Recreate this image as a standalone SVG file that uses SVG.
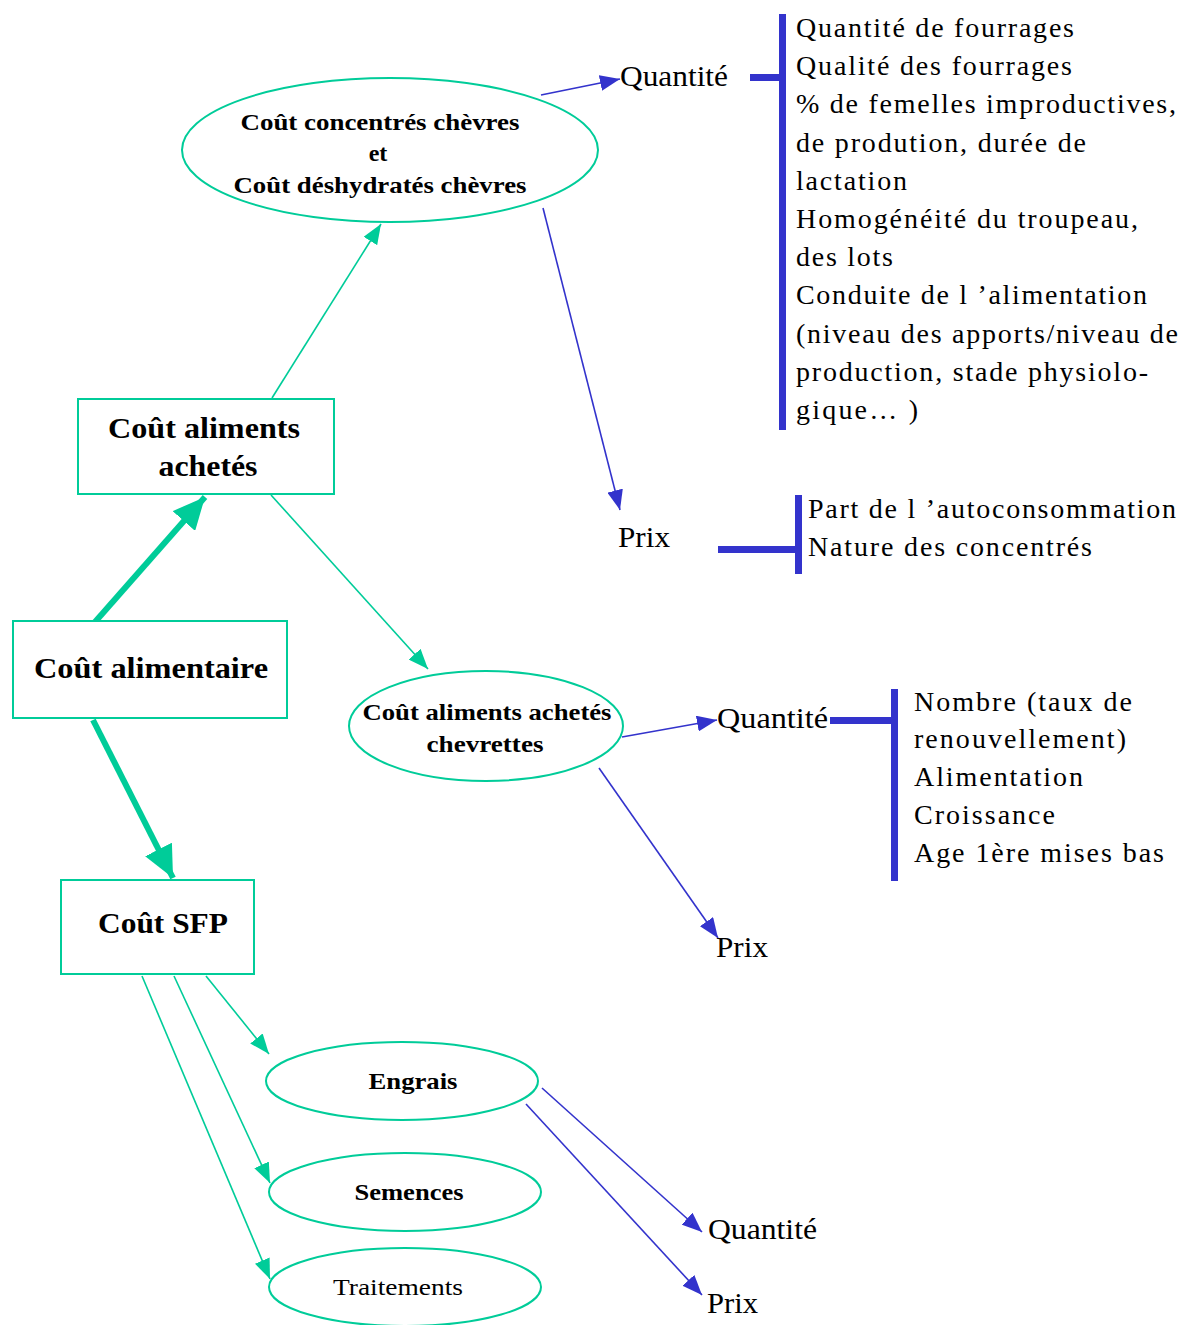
<svg xmlns="http://www.w3.org/2000/svg" width="1185" height="1325" viewBox="0 0 1185 1325">
<style>
.bg{fill:#ffffff}
.node{fill:#ffffff;stroke:#00CC99;stroke-width:2}
.t{fill:#000000;stroke:none;font-family:"Liberation Serif","Times New Roman",serif}
.b{font-weight:bold}
.nb{font-size:24px}
.rb{font-size:30px}
.lab{font-size:29px}
.lst{font-size:28px}
.teal{stroke:#00CC99;stroke-width:1.6;fill:none}
.tealthick{stroke:#00CC99;stroke-width:6;fill:none}
.blue{stroke:#3333CC;stroke-width:1.6;fill:none}
.bar{fill:#3333CC;stroke:none}
</style>
<defs>
<marker id="mt" markerUnits="userSpaceOnUse" viewBox="0 0 20 16" markerWidth="20" markerHeight="16" refX="20" refY="8" orient="auto">
<path d="M0,0 L20,8 L0,16 z" fill="#00CC99"/>
</marker>
<marker id="mtl" markerUnits="userSpaceOnUse" viewBox="0 0 32 30" markerWidth="32" markerHeight="30" refX="32" refY="15" orient="auto">
<path d="M0,0 L32,15 L0,30 z" fill="#00CC99"/>
</marker>
<marker id="mb" markerUnits="userSpaceOnUse" viewBox="0 0 20 16" markerWidth="20" markerHeight="16" refX="20" refY="8" orient="auto">
<path d="M0,0 L20,8 L0,16 z" fill="#3333CC"/>
</marker>
</defs>
<rect class="bg" x="0" y="0" width="1185" height="1325"/>

<g id="connectors">
<line class="blue" x1="541" y1="95" x2="620" y2="79" marker-end="url(#mb)"/>
<line class="blue" x1="543" y1="208" x2="620" y2="510" marker-end="url(#mb)"/>
<line class="blue" x1="622" y1="737" x2="717" y2="720" marker-end="url(#mb)"/>
<line class="blue" x1="599" y1="768" x2="718" y2="938" marker-end="url(#mb)"/>
<line class="blue" x1="542" y1="1088" x2="702" y2="1232" marker-end="url(#mb)"/>
<line class="blue" x1="526" y1="1104" x2="702" y2="1295" marker-end="url(#mb)"/>
<line class="teal" x1="272" y1="398" x2="381" y2="224" marker-end="url(#mt)"/>
<line class="teal" x1="271" y1="495" x2="428" y2="669" marker-end="url(#mt)"/>
<line class="teal" x1="206" y1="976" x2="269" y2="1054" marker-end="url(#mt)"/>
<line class="teal" x1="174" y1="976" x2="270" y2="1183" marker-end="url(#mt)"/>
<line class="teal" x1="142" y1="976" x2="270" y2="1279" marker-end="url(#mt)"/>
<line class="tealthick" x1="95" y1="622" x2="205" y2="497" marker-end="url(#mtl)"/>
<line class="tealthick" x1="93" y1="720" x2="173" y2="878" marker-end="url(#mtl)"/>
</g>

<g id="brackets">
<rect class="bar" x="779" y="14" width="7" height="416"/>
<rect class="bar" x="750" y="74" width="32" height="7"/>
<rect class="bar" x="795" y="495" width="7" height="79"/>
<rect class="bar" x="718" y="546" width="80" height="7"/>
<rect class="bar" x="891" y="689" width="7" height="192"/>
<rect class="bar" x="830" y="717" width="64" height="7"/>
</g>

<g id="node-concentres">
<ellipse class="node" cx="390" cy="150" rx="208" ry="72"/>
<text class="t b nb" x="380" y="130" text-anchor="middle" textLength="279" lengthAdjust="spacingAndGlyphs">Coût concentrés chèvres</text>
<text class="t b nb" x="378" y="161" text-anchor="middle">et</text>
<text class="t b nb" x="380" y="193" text-anchor="middle" textLength="293" lengthAdjust="spacingAndGlyphs">Coût déshydratés chèvres</text>
</g>

<g id="node-aliments-achetes">
<rect class="node" x="78" y="399" width="256" height="95"/>
<text class="t b rb" x="204" y="438" text-anchor="middle" textLength="192" lengthAdjust="spacingAndGlyphs">Coût aliments</text>
<text class="t b rb" x="208" y="476" text-anchor="middle" textLength="99" lengthAdjust="spacingAndGlyphs">achetés</text>
</g>

<g id="node-alimentaire">
<rect class="node" x="13" y="621" width="274" height="97"/>
<text class="t b rb" x="151" y="678" text-anchor="middle" textLength="234" lengthAdjust="spacingAndGlyphs">Coût alimentaire</text>
</g>

<g id="node-sfp">
<rect class="node" x="61" y="880" width="193" height="94"/>
<text class="t b rb" x="163" y="933" text-anchor="middle" textLength="130" lengthAdjust="spacingAndGlyphs">Coût SFP</text>
</g>

<g id="node-chevrettes">
<ellipse class="node" cx="486" cy="726" rx="137" ry="55"/>
<text class="t b nb" x="487" y="720" text-anchor="middle" textLength="249" lengthAdjust="spacingAndGlyphs">Coût aliments achetés</text>
<text class="t b nb" x="485" y="752" text-anchor="middle" textLength="117" lengthAdjust="spacingAndGlyphs">chevrettes</text>
</g>

<g id="node-engrais">
<ellipse class="node" cx="402" cy="1081" rx="136" ry="39"/>
<text class="t b nb" x="413" y="1089" text-anchor="middle" textLength="89" lengthAdjust="spacingAndGlyphs">Engrais</text>
</g>

<g id="node-semences">
<ellipse class="node" cx="405" cy="1192" rx="136" ry="39"/>
<text class="t b nb" x="409" y="1200" text-anchor="middle" textLength="109" lengthAdjust="spacingAndGlyphs">Semences</text>
</g>

<g id="node-traitements">
<ellipse class="node" cx="405" cy="1287" rx="136" ry="39"/>
<text class="t" x="398" y="1295" text-anchor="middle" font-size="23" textLength="130" lengthAdjust="spacingAndGlyphs">Traitements</text>
</g>

<g id="labels">
<text class="t lab" x="620" y="86" textLength="108" lengthAdjust="spacingAndGlyphs">Quantité</text>
<text class="t lab" x="618" y="547" textLength="52" lengthAdjust="spacingAndGlyphs">Prix</text>
<text class="t lab" x="717" y="728" textLength="111" lengthAdjust="spacingAndGlyphs">Quantité</text>
<text class="t lab" x="716" y="957" textLength="52" lengthAdjust="spacingAndGlyphs">Prix</text>
<text class="t lab" x="708" y="1239" textLength="109" lengthAdjust="spacingAndGlyphs">Quantité</text>
<text class="t lab" x="707" y="1313" textLength="51" lengthAdjust="spacingAndGlyphs">Prix</text>
</g>

<g id="list-quantite-chevres">
<text class="t lst" x="796" y="37" textLength="278" lengthAdjust="spacing">Quantité de fourrages</text>
<text class="t lst" x="796" y="75" textLength="276" lengthAdjust="spacing">Qualité des fourrages</text>
<text class="t lst" x="796" y="113" textLength="380" lengthAdjust="spacing">% de femelles improductives,</text>
<text class="t lst" x="796" y="152" textLength="290" lengthAdjust="spacing">de prodution, durée de</text>
<text class="t lst" x="796" y="190" textLength="111" lengthAdjust="spacing">lactation</text>
<text class="t lst" x="796" y="228" textLength="342" lengthAdjust="spacing">Homogénéité du troupeau,</text>
<text class="t lst" x="796" y="266" textLength="97" lengthAdjust="spacing">des lots</text>
<text class="t lst" x="796" y="304" textLength="351" lengthAdjust="spacing">Conduite de l ’alimentation</text>
<text class="t lst" x="796" y="343" textLength="382" lengthAdjust="spacing">(niveau des apports/niveau de</text>
<text class="t lst" x="796" y="381" textLength="352" lengthAdjust="spacing">production, stade physiolo-</text>
<text class="t lst" x="796" y="419" textLength="122" lengthAdjust="spacing">gique… )</text>
</g>

<g id="list-prix-chevres">
<text class="t lst" x="808" y="518" textLength="368" lengthAdjust="spacing">Part de l ’autoconsommation</text>
<text class="t lst" x="808" y="556" textLength="284" lengthAdjust="spacing">Nature des concentrés</text>
</g>

<g id="list-quantite-chevrettes">
<text class="t lst" x="914" y="711" textLength="218" lengthAdjust="spacing">Nombre (taux de</text>
<text class="t lst" x="914" y="748" textLength="212" lengthAdjust="spacing">renouvellement)</text>
<text class="t lst" x="914" y="786" textLength="169" lengthAdjust="spacing">Alimentation</text>
<text class="t lst" x="914" y="824" textLength="141" lengthAdjust="spacing">Croissance</text>
<text class="t lst" x="914" y="862" textLength="250" lengthAdjust="spacing">Age 1ère mises bas</text>
</g>
</svg>
